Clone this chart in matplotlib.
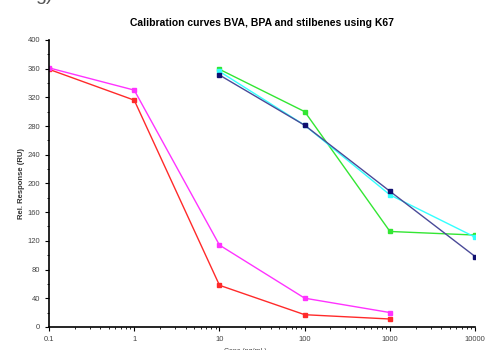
import matplotlib
matplotlib.use("Agg")
import matplotlib.pyplot as plt
from matplotlib.ticker import FixedLocator, LogLocator, NullFormatter, MultipleLocator

plt.rcParams['font.family'] = ['Liberation Sans', 'DejaVu Sans']

# concentrations
conc_a = [0.1, 1, 10, 100, 1000]
conc_b = [10, 100, 1000, 10000]

# responses (RU)
red_vals = [359, 316, 58, 17, 11]
magenta_vals = [361, 330, 114, 40, 20]
green_vals = [359, 300, 133, 128]
cyan_vals = [356, 281, 184, 125]
navy_vals = [351, 281, 189, 98]

xtick_vals = [0.1, 1, 10, 100, 1000, 10000]
xtick_labels = ["0.1", "1", "10", "100", "1000", "10000"]

fig = plt.figure(figsize=(4.95, 3.5), dpi=100)
ax = fig.add_axes([0.099, 0.066, 0.861, 0.820])

ax.plot(conc_a, red_vals, color='#ff2a2a', marker='s', ms=3, lw=1)
ax.plot(conc_a, magenta_vals, color='#ff33ff', marker='s', ms=3, lw=1)
ax.plot(conc_b, green_vals, color='#33e633', marker='s', ms=3, lw=1)
ax.plot(conc_b, cyan_vals, color='#33ffff', marker='s', ms=3, lw=1)
ax.plot(conc_b, navy_vals, color='#4a4a98', marker='s', ms=3, lw=1,
        mfc='#101070', mec='#101070')

ax.set_xscale('log')
ax.set_xlim(0.1, 10000)
ax.set_ylim(0, 400)
ax.xaxis.set_major_locator(FixedLocator(xtick_vals))
ax.set_xticklabels(xtick_labels)
ax.xaxis.set_minor_locator(LogLocator(base=10, subs=range(2, 10)))
ax.xaxis.set_minor_formatter(NullFormatter())
ax.yaxis.set_major_locator(MultipleLocator(40))
ax.yaxis.set_minor_locator(MultipleLocator(20))

for s in ['top', 'right']:
    ax.spines[s].set_visible(False)
ax.spines['left'].set_linewidth(1.2)
ax.spines['bottom'].set_linewidth(1.2)
ax.tick_params(which='major', length=3, width=0.8, labelsize=5.5, colors='black',
               labelcolor='#444444')
ax.tick_params(which='minor', length=1.5, width=0.6)

ax.set_ylabel('Rel. Response (RU)', fontsize=5.5, fontweight='bold', color='#333333', labelpad=2)
ax.set_title('Calibration curves BVA, BPA and stilbenes using K67', fontsize=7.5,
             fontweight='bold', pad=10)
fig.text(0.495, -0.004, 'Conc (ng/mL)', fontsize=5, ha='center', va='center', color='#444444')
fig.text(0.07, 1.012, 'g)', fontsize=14, ha='left', va='center', color='#555555')

fig.savefig('out.png', dpi=100)
